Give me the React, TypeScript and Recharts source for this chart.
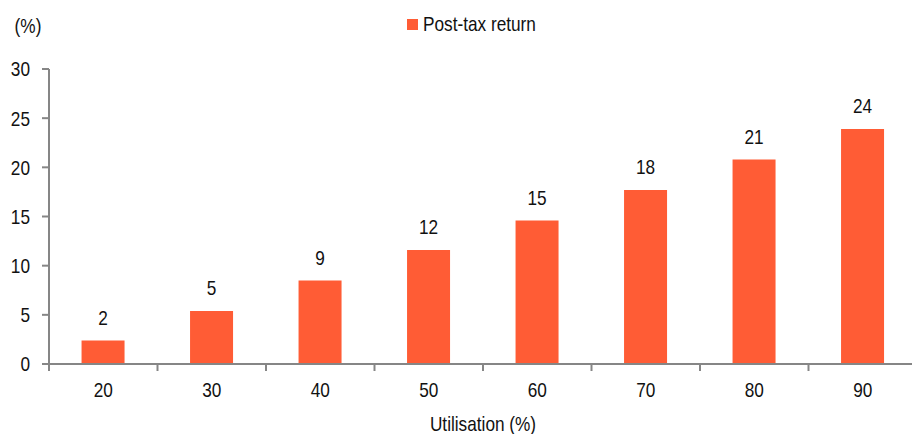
import { BarChart, Bar, XAxis, YAxis, LabelList } from "recharts";

const UTILISATION = ["20", "30", "40", "50", "60", "70", "80", "90"];
const POST_TAX_RETURN = [2.4, 5.4, 8.5, 11.6, 14.6, 17.7, 20.8, 23.9];
const Y_TICKS = [0, 5, 10, 15, 20, 25, 30];

const data = UTILISATION.map((u, i) => ({ utilisation: u, ret: POST_TAX_RETURN[i] }));

const FONT = '"Liberation Sans", Arial, sans-serif';
const FONT_SIZE = 21;
const NARROW = 0.82; // squeeze Arial-like glyphs to a narrow face
const INK = "#111";
const BAR = "#FF5C35";
const AXIS = "#868686";
const CHART_W = 917;
const CHART_H = 434;
const Y_AXIS_W = 49;
const BAND = (CHART_W - Y_AXIS_W) / UTILISATION.length;

function NarrowText({ x, y, anchor = "middle", dy, children }: any) {
  return (
    <text
      transform={`translate(${x},${y}) scale(${NARROW},1)`}
      x={0}
      y={0}
      dy={dy}
      textAnchor={anchor}
      fontSize={FONT_SIZE}
      fontFamily={FONT}
      fill={INK}
    >
      {children}
    </text>
  );
}

function XTick(props: any) {
  const { x, y, payload } = props;
  // boundary tick line sits half a band left of the label
  const lx = x - BAND / 2;
  return (
    <g>
      <line x1={lx} x2={lx} y1={y - 18} y2={y - 11} stroke={AXIS} strokeWidth={2} />
      <NarrowText x={x} y={y} dy="0.71em">
        {payload.value}
      </NarrowText>
    </g>
  );
}

function YTick(props: any) {
  const { x, y, payload } = props;
  return (
    <NarrowText x={x} y={y} anchor="end" dy="0.355em">
      {payload.value}
    </NarrowText>
  );
}

function ValueLabel(props: any) {
  const { x, y, width, value } = props;
  return (
    <NarrowText x={x + width / 2} y={y - 15.5}>
      {Math.round(Number(value))}
    </NarrowText>
  );
}

function Legend() {
  return (
    <div
      style={{
        position: "absolute",
        left: 407,
        top: 12,
        height: 24,
        display: "flex",
        alignItems: "center",
        fontFamily: FONT,
        fontSize: FONT_SIZE,
        color: INK,
        whiteSpace: "nowrap",
      }}
    >
      <span style={{ width: 11, height: 11, background: BAR, marginRight: 5, display: "inline-block" }} />
      <span style={{ display: "inline-block", transform: `scaleX(${NARROW})`, transformOrigin: "left center" }}>
        Post-tax return
      </span>
    </div>
  );
}

export default function App() {
  return (
    <div style={{ width: 912, height: 434, overflow: "hidden", background: "#fff", position: "relative" }}>
      <style>{"body{margin:0}"}</style>
      <BarChart
        width={CHART_W}
        height={CHART_H}
        data={data}
        margin={{ top: 69, right: 0, left: 0, bottom: 0 }}
        barCategoryGap="30%"
      >
        <XAxis
          dataKey="utilisation"
          height={70}
          axisLine={{ stroke: AXIS, strokeWidth: 2 }}
          tickLine={false}
          tickSize={7}
          tickMargin={11}
          tick={<XTick />}
          interval={0}
          label={{
            value: "Utilisation (%)",
            content: (p: any) => (
              <NarrowText x={p.viewBox.x + p.viewBox.width / 2} y={p.viewBox.y + p.viewBox.height - 3}>
                Utilisation (%)
              </NarrowText>
            ),
          }}
        />
        <YAxis
          width={Y_AXIS_W}
          domain={[0, 30]}
          ticks={Y_TICKS}
          interval={0}
          axisLine={{ stroke: AXIS, strokeWidth: 2 }}
          tickLine={{ stroke: AXIS, strokeWidth: 2 }}
          tickSize={7}
          tickMargin={12}
          tick={<YTick />}
          label={{
            value: "(%)",
            content: (p: any) => (
              <NarrowText x={p.viewBox.x + 28} y={p.viewBox.y - 36}>
                (%)
              </NarrowText>
            ),
          }}
        />
        <Bar dataKey="ret" name="Post-tax return" fill={BAR} isAnimationActive={false}>
          <LabelList dataKey="ret" content={<ValueLabel />} />
        </Bar>
      </BarChart>
      <Legend />
    </div>
  );
}
